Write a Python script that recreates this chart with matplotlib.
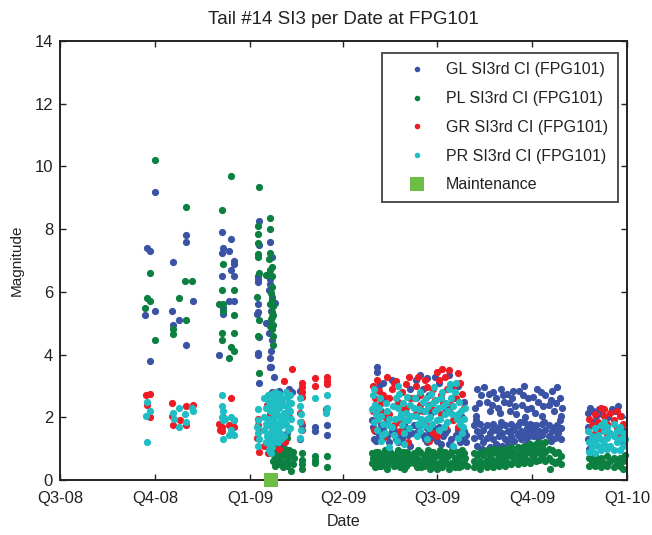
import matplotlib
matplotlib.use("Agg")
import matplotlib.pyplot as plt
from matplotlib.lines import Line2D
from matplotlib import font_manager

names = {f.name for f in font_manager.fontManager.ttflist}
FONT = "Liberation Sans Narrow" if "Liberation Sans Narrow" in names else "Liberation Sans"
plt.rcParams['font.family'] = [FONT, 'DejaVu Sans']

# x = days since 2008-07-01 (Q3-08)
tick_days = [0, 92, 184, 274, 365, 457, 549]
tick_labels = ["Q3-08", "Q4-08", "Q1-09", "Q2-09", "Q3-09", "Q4-09", "Q1-10"]

gl_points = [
    # Q4-08
    (92, 9.2), (84, 7.4), (87, 7.3), (109, 6.95), (122, 7.8), (122, 7.6), (129, 5.7), (92, 5.4),
    (82, 5.25), (108, 5.4), (115, 5.1), (109, 4.95), (87, 3.8), (122, 4.3),
    # mid Dec-08
    (157, 7.9), (166, 7.7), (158, 7.4), (157, 7.25), (164, 7.3), (168, 7.0), (168, 6.9), (166, 6.7),
    (168, 6.5), (157, 6.5), (164, 5.7), (168, 5.7), (158, 5.5), (158, 5.3), (154, 4.0),
    # Jan-09 column
    (193, 8.25), (203, 7.6), (193, 7.5), (205, 7.1), (192, 6.5), (192, 6.4), (192, 6.3), (203, 6.4),
    (203, 6.25), (202, 6.05), (205, 5.85), (208, 5.65), (204, 5.4), (205, 5.2), (204, 5.0), (202, 4.7),
    (205, 4.45), (204, 4.1), (203, 3.6), (192, 5.6), (191, 5.3), (192, 5.35), (199, 5.0), (193, 4.55),
    (192, 4.05), (203, 3.9), (204, 3.6),
    (192, 4.0), (193, 3.1), (203, 3.6), (207, 3.3), (205, 2.8), (212, 2.85), (222, 2.9), (232, 2.85),
    (225, 2.8), (220, 1.5), (232, 1.3), (247, 1.7), (247, 1.55), (259, 1.75), (259, 1.45), (215, 1.15),
    (234, 1.75),
    # Q2-09
    (307, 3.6), (307, 3.45), (313, 3.1), (309, 3.0), (305, 2.4), (311, 1.75), (303, 1.7), (305, 1.55),
    (309, 1.45), (313, 1.6), (317, 1.4), (321, 1.55), (325, 1.3), (329, 1.5), (333, 1.65), (337, 1.45),
    (304, 1.3), (319, 1.2), (333, 1.8), (339, 1.1),
    (345, 3.2), (349, 3.35), (355, 3.25), (351, 2.9), (347, 2.2), (363, 3.3), (367, 3.1), (377, 3.35),
    (385, 3.0), (391, 2.5), (389, 2.0),
    (343, 1.75), (347, 1.55), (351, 1.45), (355, 1.65), (359, 1.35), (363, 1.55), (367, 1.7), (371, 1.4),
    (375, 1.6), (379, 1.3), (383, 1.45), (387, 1.2), (391, 1.55), (381, 1.05), (369, 1.15), (355, 1.2),
    (345, 2.6), (373, 2.3), (359, 2.15),
    (302, 1.9), (306, 1.25), (315, 1.8), (323, 1.6), (327, 1.2), (331, 1.35), (335, 1.55), (341, 1.5),
    (349, 1.8), (353, 1.3), (357, 1.5), (361, 1.7), (365, 1.25), (373, 1.5), (377, 1.15), (385, 1.6),
    (389, 1.35), (393, 1.45), (393, 1.2), (315, 2.6), (321, 3.2), (339, 2.9), (357, 2.7), (381, 2.6),
    # Q3-09
    (402, 2.3), (404, 2.9), (408, 2.7), (411, 2.95), (413, 2.5), (416, 2.2), (419, 2.8), (422, 2.6),
    (424, 2.3), (427, 2.9), (430, 2.5), (433, 2.75), (436, 2.2), (438, 2.6), (441, 2.35), (444, 2.85),
    (447, 2.4), (450, 2.0), (453, 2.6), (456, 2.3), (460, 2.15), (463, 2.5), (467, 2.05), (470, 2.7),
    (473, 2.4), (478, 2.2), (481, 2.95), (484, 2.6), (486, 2.3), (476, 2.85), (466, 2.8), (449, 3.0),
    (403, 2.05), (406, 2.45), (415, 2.75), (418, 2.4), (426, 2.15), (429, 2.7), (435, 2.45), (439, 2.85),
    (442, 2.1), (448, 2.7), (452, 2.25), (458, 2.65), (462, 2.9), (468, 2.35), (475, 2.55), (480, 2.45),
    (485, 2.05),
    (401, 1.75), (401, 1.35), (404, 1.55), (404, 1.1), (407, 1.8), (407, 1.4), (410, 1.6), (410, 1.2),
    (413, 1.75), (413, 1.35), (416, 1.5), (416, 1.05), (419, 1.8), (419, 1.3), (422, 1.6), (422, 1.15),
    (425, 1.7), (425, 1.4), (428, 1.5), (428, 1.1), (431, 1.75), (431, 1.3), (434, 1.55), (434, 1.2),
    (437, 1.8), (437, 1.4), (440, 1.6), (440, 1.25), (443, 1.75), (443, 1.45), (446, 1.55), (446, 1.3),
    (449, 1.85), (449, 1.5), (452, 1.65), (452, 1.35), (455, 1.8), (455, 1.5), (458, 1.6), (458, 1.4),
    (461, 1.75), (461, 1.45), (464, 1.55), (467, 1.8), (467, 1.45), (470, 1.6), (473, 1.75), (473, 1.4),
    (476, 1.55), (479, 1.7), (479, 1.35), (482, 1.5), (485, 1.65), (485, 1.3),
    (403, 1.9), (409, 1.0), (418, 1.6), (427, 1.85), (433, 1.05), (439, 1.7), (445, 1.85), (451, 1.15),
    (457, 1.75), (463, 1.35), (469, 1.85), (475, 1.25), (481, 1.75), (484, 1.9),
    # Q4-09
    (511, 2.15), (513, 2.3), (516, 2.2), (519, 2.05), (522, 2.25), (525, 2.1), (531, 2.0), (537, 2.2),
    (540, 2.35), (543, 2.05), (511, 1.7), (511, 1.3), (512, 1.0), (545, 1.6), (545, 1.2), (516, 1.85),
    (534, 2.25),
]

pl_points = [
    (92, 10.2), (122, 8.7), (87, 6.6), (121, 6.35), (128, 6.35), (84, 5.8), (87, 5.7), (115, 5.8),
    (82, 5.5), (122, 5.1), (109, 4.8), (109, 4.65), (92, 4.45),
    (166, 9.7), (157, 8.6), (158, 6.9), (157, 6.05), (168, 6.05), (154, 5.6), (158, 5.6), (158, 5.4),
    (168, 5.25), (157, 4.7), (168, 4.7), (157, 4.45), (166, 4.25), (168, 4.1), (164, 3.9),
    (193, 9.35), (203, 8.35), (192, 8.1), (203, 8.0), (192, 7.85), (192, 7.55), (203, 7.25), (192, 7.2),
    (192, 7.1), (202, 7.05), (205, 6.8), (203, 6.7), (199, 6.55), (205, 6.5), (193, 6.6), (205, 6.15),
    (204, 5.95), (205, 5.75), (206, 5.55), (205, 5.35), (204, 5.15), (206, 4.95), (205, 4.8), (191, 5.85),
    (193, 5.1), (192, 4.6), (206, 4.6), (206, 4.3), (203, 5.6), (206, 5.25), (203, 4.9),
    (193, 3.4), (220, 1.35),
    (206, 1.0), (207, 0.8), (206, 0.6), (208, 0.45), (210, 1.05), (210, 0.85), (211, 0.65), (212, 0.5),
    (214, 0.95), (214, 0.75), (215, 0.55), (216, 0.4), (218, 1.0), (218, 0.8), (219, 0.6), (220, 0.45),
    (222, 0.95), (223, 0.75), (222, 0.55), (224, 0.3), (226, 0.9), (227, 0.7), (226, 0.5),
    (234, 0.85), (234, 0.65), (234, 0.5), (234, 0.35), (247, 0.75), (247, 0.65), (247, 0.55),
    (259, 0.75), (259, 0.4),
    (302, 0.85), (302, 0.55), (305, 0.7), (305, 0.4), (308, 0.9), (308, 0.6), (311, 0.75), (311, 0.45),
    (314, 0.85), (314, 0.55), (317, 0.7), (317, 0.35), (320, 0.9), (320, 0.6), (323, 0.75), (323, 0.45),
    (326, 0.85), (326, 0.5), (329, 0.7), (329, 0.4), (332, 0.9), (332, 0.6), (335, 0.75), (335, 0.45),
    (338, 0.8), (338, 0.55),
    (343, 0.85), (343, 0.55), (346, 0.7), (346, 0.4), (349, 0.9), (349, 0.6), (352, 0.75), (352, 0.45),
    (355, 0.85), (355, 0.55), (358, 0.7), (358, 0.35), (361, 0.9), (361, 0.6), (364, 0.75), (364, 0.45),
    (367, 0.85), (367, 0.55), (370, 0.7), (370, 0.4), (373, 0.9), (373, 0.6), (376, 0.75), (376, 0.5),
    (379, 0.85), (379, 0.55), (382, 0.7), (382, 0.4), (385, 0.9), (385, 0.6), (388, 0.75), (388, 0.45),
    (391, 0.85), (391, 0.55),
    (303, 0.7), (306, 0.9), (309, 0.45), (312, 0.65), (315, 0.95), (318, 0.5), (321, 0.8), (324, 0.6),
    (327, 0.95), (330, 0.55), (333, 0.35), (336, 0.9), (339, 0.65), (344, 0.7), (347, 0.95), (350, 0.4),
    (353, 0.65), (356, 0.95), (359, 0.5), (362, 0.8), (365, 0.35), (368, 0.95), (371, 0.6), (374, 0.8),
    (377, 0.35), (380, 0.95), (383, 0.6), (386, 0.4), (389, 0.95), (392, 0.7), (394, 0.45),
    (401, 0.85), (401, 0.6), (401, 0.4), (404, 0.8), (404, 0.5), (407, 0.9), (407, 0.6), (407, 0.35),
    (410, 0.8), (410, 0.5), (413, 0.95), (413, 0.65), (413, 0.4), (416, 0.8), (416, 0.5), (419, 1.0),
    (419, 0.65), (419, 0.4), (422, 0.85), (422, 0.55), (425, 1.0), (425, 0.7), (425, 0.45), (428, 0.85),
    (428, 0.55), (431, 1.0), (431, 0.7), (431, 0.45), (434, 0.85), (434, 0.55), (437, 1.05), (437, 0.75),
    (437, 0.5), (440, 0.9), (440, 0.6), (443, 1.05), (443, 0.75), (443, 0.5), (446, 0.9), (446, 0.6),
    (449, 1.1), (449, 0.8), (449, 0.55), (452, 0.95), (452, 0.65), (455, 1.15), (455, 0.85), (455, 0.55),
    (458, 1.0), (458, 0.7), (461, 1.15), (461, 0.85), (461, 0.6), (464, 1.2), (464, 0.95), (464, 0.65),
    (467, 1.05), (467, 0.75), (470, 1.2), (470, 0.9), (470, 0.6), (473, 1.0), (473, 0.7), (476, 0.95),
    (476, 0.6), (479, 0.85), (479, 0.55), (482, 0.9), (482, 0.6), (485, 0.75), (485, 0.5), (474, 0.35),
    (512, 0.7), (512, 0.45), (515, 0.6), (518, 0.75), (518, 0.45), (521, 0.6), (524, 0.7), (524, 0.4),
    (527, 0.55), (530, 0.75), (530, 0.45), (533, 0.6), (536, 0.7), (536, 0.4), (539, 0.55), (542, 0.7),
    (542, 0.45), (545, 0.6), (547, 0.8), (545, 0.35),
]

gr_points = [
    (83, 2.7), (87, 2.75), (84, 2.4), (108, 2.45), (108, 2.05), (116, 1.9), (109, 1.75), (122, 1.75),
    (129, 2.4), (122, 2.35), (87, 2.0),
    (166, 2.6), (154, 1.8), (157, 1.7), (164, 1.75), (168, 1.7), (155, 1.6), (157, 1.55), (168, 1.9),
    (158, 2.0),
    (192, 1.95), (192, 1.75), (193, 1.55), (191, 1.35), (193, 0.9), (201, 0.85), (203, 2.1), (207, 2.8),
    (220, 2.8), (217, 3.15), (225, 3.55), (234, 3.1), (234, 2.95), (234, 2.8), (234, 2.65), (247, 3.25),
    (247, 3.0), (259, 3.3), (259, 3.15), (259, 3.05), (258, 2.25), (222, 2.0), (232, 2.15), (233, 1.85),
    (234, 1.6), (200, 2.4), (205, 1.3), (210, 1.5), (214, 2.5), (218, 1.2), (212, 1.0), (198, 1.1),
    (303, 3.0), (305, 2.6), (309, 2.85), (313, 2.7), (303, 2.2), (311, 2.45), (317, 3.3), (321, 2.9),
    (325, 3.15), (327, 2.5), (319, 2.1), (331, 2.8), (335, 2.3), (323, 1.75), (329, 1.55), (333, 1.9),
    (313, 1.35), (337, 1.2), (307, 1.9), (338, 3.3),
    (345, 3.0), (349, 2.7), (353, 3.2), (357, 2.4), (361, 2.9), (365, 3.45), (369, 2.7), (373, 3.3),
    (377, 3.5), (381, 3.0), (385, 3.4), (389, 2.75), (345, 2.1), (353, 1.8), (361, 1.5), (369, 2.1),
    (377, 2.2), (385, 1.7), (357, 1.25), (349, 2.4), (370, 3.55),
    (304, 1.6), (307, 3.2), (311, 2.2), (315, 2.0), (319, 2.6), (323, 3.1), (327, 1.85), (331, 2.3),
    (335, 3.05), (339, 2.6), (343, 2.6), (347, 3.3), (351, 2.2), (355, 2.95), (359, 2.3), (363, 2.55),
    (367, 3.2), (371, 2.45), (375, 2.9), (379, 2.4), (383, 2.6), (387, 3.1), (391, 2.3), (373, 1.7),
    (365, 1.4), (381, 1.9),
    (512, 1.95), (515, 1.75), (518, 2.1), (521, 1.85), (524, 1.6), (527, 2.05), (530, 1.8), (533, 2.15),
    (536, 1.9), (539, 1.65), (542, 2.05), (545, 1.8), (518, 1.5), (530, 1.45), (542, 1.4), (527, 2.25),
    (539, 2.2), (524, 2.3),
]

pr_points = [
    (84, 2.5), (87, 2.2), (83, 2.05), (84, 1.2), (109, 2.15), (110, 1.95), (115, 2.3), (121, 2.1),
    (122, 1.85), (128, 2.3), (129, 2.2), (115, 1.7),
    (157, 2.7), (157, 2.35), (158, 2.2), (157, 2.0), (158, 1.9), (166, 2.0), (168, 1.9), (166, 1.6),
    (164, 1.45), (168, 1.45), (158, 1.3), (160, 1.95),
    (192, 2.25), (192, 1.9), (191, 1.7), (192, 1.5), (193, 1.3), (192, 1.1),
    (198, 2.6), (199, 2.3), (198, 2.0), (199, 1.8), (198, 1.6), (200, 1.4), (199, 1.2),
    (201, 2.7), (202, 2.5), (203, 2.2), (202, 1.95), (201, 1.75), (203, 1.5), (202, 1.3), (203, 1.1),
    (202, 0.95), (204, 0.85),
    (205, 2.75), (206, 2.55), (205, 2.35), (207, 2.1), (206, 1.85), (205, 1.65), (207, 1.45), (206, 1.25),
    (205, 1.05),
    (208, 2.8), (209, 2.6), (210, 2.4), (209, 2.2), (208, 2.0), (210, 1.8), (209, 1.6), (208, 1.4),
    (212, 2.75), (213, 2.5), (212, 2.3), (213, 2.05), (214, 1.9), (212, 1.7), (213, 1.5),
    (215, 2.6), (216, 2.4), (217, 2.15), (216, 1.95), (215, 1.75),
    (219, 2.8), (220, 2.6), (219, 2.4), (221, 2.25), (220, 2.0), (219, 1.8), (221, 1.6),
    (223, 2.7), (224, 2.45), (223, 2.2), (224, 1.95), (223, 1.65),
    (232, 2.6), (232, 2.35), (233, 2.1), (232, 1.85), (233, 1.6), (232, 1.35),
    (247, 2.6), (259, 2.7), (259, 2.3), (258, 2.15), (217, 1.4), (211, 1.2), (214, 1.3),
    (303, 2.7), (305, 2.4), (306, 2.1), (304, 1.85), (307, 1.6), (309, 2.3), (311, 2.05), (313, 1.8),
    (315, 1.5), (311, 1.25), (317, 2.2), (319, 1.95), (321, 1.7), (323, 1.45), (319, 1.05), (325, 2.6),
    (327, 2.3), (329, 2.0), (331, 1.75), (333, 1.5), (335, 2.15), (337, 1.9), (339, 2.4), (327, 3.0),
    (333, 1.15),
    (343, 2.3), (345, 2.05), (347, 1.8), (349, 1.55), (351, 2.5), (353, 2.2), (355, 1.95), (357, 1.65),
    (359, 2.75), (361, 2.45), (363, 2.2), (365, 1.9), (367, 1.6), (369, 2.6), (371, 2.35), (373, 2.1),
    (375, 1.85), (377, 2.9), (379, 2.6), (381, 2.35), (383, 3.1), (385, 2.1), (387, 1.8), (389, 1.5),
    (385, 1.35), (391, 1.95), (381, 1.1), (355, 1.3), (349, 2.8),
    (302, 2.25), (304, 2.9), (308, 1.95), (310, 2.6), (312, 1.45), (316, 2.45), (318, 1.75), (322, 2.35),
    (324, 1.95), (326, 1.25), (328, 2.75), (330, 2.1), (332, 2.45), (334, 1.9), (336, 2.65), (338, 1.65),
    (340, 2.05), (344, 2.6), (346, 1.4), (348, 2.25), (350, 1.95), (352, 1.75), (354, 2.6), (356, 2.35),
    (358, 2.0), (360, 1.8), (362, 2.95), (364, 2.55), (366, 2.3), (368, 1.95), (370, 2.8), (372, 1.7),
    (374, 2.45), (376, 2.2), (378, 3.05), (380, 2.1), (382, 2.8), (384, 1.95), (386, 2.5), (388, 2.2),
    (390, 1.7), (392, 2.3),
    (511, 1.55), (512, 1.2), (512, 0.9), (515, 1.4), (515, 1.05), (518, 1.65), (518, 1.25), (518, 0.85),
    (521, 1.45), (521, 1.1), (524, 1.75), (524, 1.3), (524, 0.95), (527, 1.55), (527, 1.15), (530, 1.7),
    (530, 1.35), (530, 1.0), (533, 1.5), (533, 1.1), (536, 1.8), (536, 1.4), (536, 0.95), (539, 1.55),
    (539, 1.2), (542, 1.7), (542, 1.3), (542, 0.95), (545, 1.5), (545, 1.1), (547, 1.3), (527, 1.85),
]

maint_days = [204]
maint_vals = [0]

series = [
    ("GL SI3rd CI (FPG101)", gl_points, "#3A53A4"),
    ("PL SI3rd CI (FPG101)", pl_points, "#0C8040"),
    ("GR SI3rd CI (FPG101)", gr_points, "#ED1C24"),
    ("PR SI3rd CI (FPG101)", pr_points, "#1EBEC4"),
]

fig = plt.figure(figsize=(6.52, 5.35), dpi=100)
ax = fig.add_axes([60 / 652, 55 / 535, 567 / 652, 439 / 535])

handles = []
for label, pts, color in series:
    xs = [p[0] for p in pts]
    ys = [p[1] for p in pts]
    ax.plot(xs, ys, linestyle="none", marker="o", markersize=5.2, color=color,
            markeredgewidth=0, clip_on=False)
    handles.append(Line2D([], [], linestyle="none", marker="o", markersize=4, color=color,
                          markeredgewidth=0, label=label))

ax.plot(maint_days, maint_vals, linestyle="none", marker="s", markersize=10.5, color="#6CBD45",
        markeredgewidth=0, clip_on=False, zorder=5)
handles.append(Line2D([], [], linestyle="none", marker="s", markersize=10.5, color="#6CBD45",
                      markeredgewidth=0, label="Maintenance"))

ax.set_xlim(0, 549)
ax.set_ylim(0, 14)
ax.set_xticks(tick_days)
ax.set_xticklabels(tick_labels)
ax.set_yticks(range(0, 15, 2))
ax.tick_params(direction="in", length=4, width=1, top=True, right=True, labelsize=12,
               colors="#222222")
ax.tick_params(axis="x", pad=8)
ax.tick_params(axis="y", pad=5)
for s in ax.spines.values():
    s.set_linewidth(1.4)
    s.set_color("#222222")

ax.set_title("Tail #14 SI3 per Date at FPG101", fontsize=13.5, color="#222222", pad=12)
ax.set_xlabel("Date", fontsize=11.5, color="#222222", labelpad=6)
ax.set_ylabel("Magnitude", fontsize=11, color="#222222", labelpad=8)

leg = ax.legend(handles=handles, loc="upper right", bbox_to_anchor=(0.984, 0.973),
                fontsize=11.5, frameon=True, fancybox=False, edgecolor="#222222",
                borderpad=0.6, labelspacing=0.86, handlelength=3.2, handletextpad=0.25,
                borderaxespad=0)
leg.get_frame().set_linewidth(1.4)
for t in leg.get_texts():
    t.set_color("#222222")

fig.savefig("out.png", dpi=100)
